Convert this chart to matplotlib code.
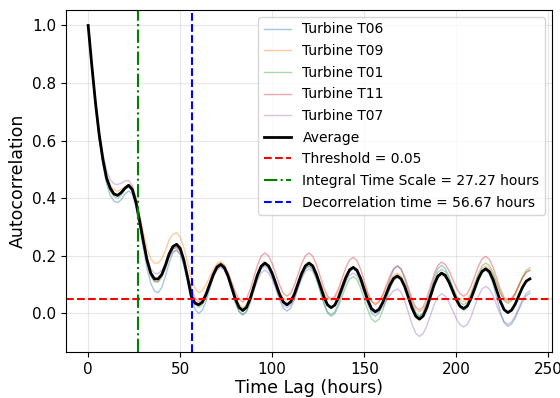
import numpy as np
import matplotlib
matplotlib.use("Agg")
import matplotlib.pyplot as plt

lags = list(range(0, 241, 2))

t06 = [1.0, 0.855, 0.72, 0.605, 0.515, 0.45, 0.41, 0.39, 0.385, 0.395, 0.415, 0.425, 0.415,
       0.37, 0.30, 0.225, 0.155, 0.105, 0.078, 0.072, 0.09, 0.13, 0.175, 0.21, 0.22,
       0.205, 0.165, 0.11, 0.055, 0.015, 0.0,
       0.011, 0.041, 0.083, 0.124, 0.154, 0.165,
       0.154, 0.123, 0.08, 0.038, 0.006, -0.005,
       0.006, 0.038, 0.08, 0.123, 0.154, 0.165,
       0.154, 0.126, 0.087, 0.047, 0.019, 0.008,
       0.019, 0.047, 0.087, 0.126, 0.154, 0.165,
       0.154, 0.123, 0.08, 0.038, 0.006, -0.005,
       0.006, 0.035, 0.075, 0.115, 0.144, 0.155,
       0.144, 0.114, 0.073, 0.031, 0.001, -0.01,
       0.002, 0.034, 0.078, 0.121, 0.153, 0.165,
       0.153, 0.121, 0.078, 0.034, 0.002, -0.01,
       0.002, 0.034, 0.079, 0.123, 0.155, 0.167,
       0.156, 0.128, 0.089, 0.049, 0.021, 0.01,
       0.019, 0.045, 0.08, 0.115, 0.141, 0.15,
       0.137, 0.101, 0.053, 0.004, -0.032, -0.045,
       -0.037, -0.016, 0.013, 0.041, 0.062, 0.07]
t09 = [1.0, 0.86, 0.735, 0.625, 0.54, 0.48, 0.445, 0.43, 0.425, 0.43, 0.44, 0.448, 0.44,
       0.40, 0.34, 0.28, 0.225, 0.19, 0.175, 0.175, 0.19, 0.22, 0.255, 0.275, 0.28,
       0.266, 0.228, 0.176, 0.124, 0.086, 0.072,
       0.079, 0.099, 0.126, 0.153, 0.173, 0.18,
       0.169, 0.14, 0.10, 0.06, 0.031, 0.02,
       0.03, 0.058, 0.095, 0.133, 0.16, 0.17,
       0.162, 0.139, 0.108, 0.076, 0.053, 0.045,
       0.053, 0.076, 0.108, 0.139, 0.162, 0.17,
       0.162, 0.139, 0.108, 0.076, 0.053, 0.045,
       0.053, 0.074, 0.103, 0.131, 0.152, 0.16,
       0.152, 0.129, 0.098, 0.066, 0.043, 0.035,
       0.042, 0.061, 0.088, 0.114, 0.133, 0.14,
       0.131, 0.106, 0.073, 0.039, 0.014, 0.005,
       0.014, 0.037, 0.069, 0.10, 0.123, 0.132,
       0.126, 0.109, 0.086, 0.063, 0.046, 0.04,
       0.048, 0.071, 0.103, 0.134, 0.157, 0.165,
       0.157, 0.134, 0.103, 0.071, 0.048, 0.04,
       0.047, 0.068, 0.095, 0.123, 0.143, 0.15]
t01 = [1.0, 0.855, 0.725, 0.61, 0.525, 0.46, 0.425, 0.405, 0.40, 0.41, 0.43, 0.44, 0.425,
       0.38, 0.31, 0.24, 0.175, 0.13, 0.11, 0.108, 0.125, 0.155, 0.195, 0.222, 0.23,
       0.216, 0.178, 0.125, 0.073, 0.034, 0.02,
       0.03, 0.058, 0.095, 0.133, 0.16, 0.17,
       0.158, 0.126, 0.083, 0.039, 0.007, -0.005,
       0.007, 0.039, 0.083, 0.126, 0.158, 0.17,
       0.161, 0.135, 0.10, 0.065, 0.039, 0.03,
       0.039, 0.064, 0.098, 0.131, 0.156, 0.165,
       0.153, 0.121, 0.078, 0.034, 0.002, -0.01,
       -0.001, 0.025, 0.059, 0.094, 0.119, 0.128,
       0.117, 0.089, 0.049, 0.01, -0.019, -0.03,
       -0.02, 0.009, 0.048, 0.086, 0.115, 0.125,
       0.116, 0.091, 0.058, 0.024, -0.001, -0.01,
       0.001, 0.031, 0.072, 0.112, 0.142, 0.153,
       0.145, 0.122, 0.092, 0.061, 0.038, 0.03,
       0.04, 0.066, 0.103, 0.139, 0.165, 0.175,
       0.166, 0.14, 0.105, 0.07, 0.044, 0.035,
       0.043, 0.066, 0.097, 0.127, 0.15, 0.158]
t11 = [1.0, 0.86, 0.73, 0.615, 0.53, 0.465, 0.43, 0.412, 0.408, 0.418, 0.435, 0.44, 0.428,
       0.38, 0.315, 0.245, 0.178, 0.132, 0.112, 0.112, 0.13, 0.16, 0.198, 0.224, 0.23,
       0.217, 0.183, 0.135, 0.088, 0.053, 0.04,
       0.049, 0.074, 0.108, 0.141, 0.166, 0.175,
       0.166, 0.141, 0.108, 0.074, 0.049, 0.04,
       0.051, 0.083, 0.125, 0.168, 0.199, 0.21,
       0.20, 0.173, 0.135, 0.098, 0.07, 0.06,
       0.07, 0.098, 0.135, 0.173, 0.20, 0.21,
       0.199, 0.17, 0.13, 0.09, 0.061, 0.05,
       0.06, 0.086, 0.123, 0.159, 0.185, 0.195,
       0.184, 0.154, 0.113, 0.071, 0.041, 0.03,
       0.039, 0.064, 0.098, 0.131, 0.156, 0.165,
       0.155, 0.127, 0.089, 0.05, 0.022, 0.012,
       0.023, 0.054, 0.095, 0.137, 0.167, 0.178,
       0.17, 0.149, 0.119, 0.09, 0.068, 0.06,
       0.069, 0.095, 0.129, 0.164, 0.189, 0.198,
       0.188, 0.16, 0.122, 0.083, 0.055, 0.045,
       0.052, 0.071, 0.098, 0.124, 0.143, 0.15]
t07 = [1.0, 0.865, 0.74, 0.635, 0.555, 0.495, 0.465, 0.45, 0.448, 0.452, 0.46, 0.462, 0.445,
       0.40, 0.33, 0.26, 0.195, 0.155, 0.14, 0.138, 0.15, 0.172, 0.198, 0.215, 0.22,
       0.207, 0.173, 0.125, 0.078, 0.043, 0.03,
       0.039, 0.063, 0.095, 0.128, 0.151, 0.16,
       0.15, 0.123, 0.085, 0.048, 0.02, 0.01,
       0.019, 0.045, 0.08, 0.115, 0.141, 0.15,
       0.141, 0.118, 0.085, 0.053, 0.029, 0.02,
       0.029, 0.054, 0.088, 0.121, 0.146, 0.155,
       0.146, 0.121, 0.088, 0.054, 0.029, 0.02,
       0.028, 0.05, 0.08, 0.11, 0.132, 0.14,
       0.131, 0.105, 0.07, 0.035, 0.009, 0.0,
       0.006, 0.021, 0.043, 0.064, 0.079, 0.085,
       0.074, 0.044, 0.003, -0.039, -0.069, -0.08,
       -0.07, -0.043, -0.006, 0.031, 0.058, 0.068,
       0.06, 0.039, 0.011, -0.018, -0.039, -0.047,
       -0.038, -0.012, 0.024, 0.059, 0.085, 0.094,
       0.085, 0.061, 0.028, -0.005, -0.029, -0.038,
       -0.03, -0.009, 0.02, 0.049, 0.07, 0.078]
average = [1.0, 0.86, 0.73, 0.62, 0.535, 0.47, 0.435, 0.415, 0.41, 0.42, 0.435, 0.445, 0.43,
           0.385, 0.32, 0.25, 0.185, 0.14, 0.12, 0.12, 0.135, 0.168, 0.207, 0.232, 0.24,
           0.226, 0.185, 0.125, 0.06, 0.036, 0.03,
           0.039, 0.065, 0.10, 0.135, 0.161, 0.17,
           0.159, 0.13, 0.09, 0.05, 0.021, 0.01,
           0.021, 0.051, 0.093, 0.134, 0.164, 0.175,
           0.165, 0.139, 0.103, 0.066, 0.04, 0.03,
           0.04, 0.066, 0.103, 0.139, 0.165, 0.175,
           0.165, 0.136, 0.098, 0.059, 0.03, 0.02,
           0.029, 0.055, 0.09, 0.125, 0.151, 0.16,
           0.15, 0.122, 0.083, 0.045, 0.016, 0.006,
           0.014, 0.037, 0.068, 0.099, 0.122, 0.13,
           0.12, 0.093, 0.055, 0.018, -0.01, -0.02,
           -0.009, 0.02, 0.06, 0.10, 0.129, 0.14,
           0.132, 0.109, 0.079, 0.048, 0.025, 0.017,
           0.026, 0.052, 0.086, 0.121, 0.146, 0.155,
           0.145, 0.117, 0.079, 0.041, 0.013, 0.003,
           0.011, 0.032, 0.062, 0.091, 0.112, 0.12]

turbine_names = ["Turbine T06", "Turbine T09", "Turbine T01", "Turbine T11", "Turbine T07"]
turbine_series = [t06, t09, t01, t11, t07]
threshold = 0.05
integral_time = 27.27
decorr_time = 56.67

fig = plt.figure(figsize=(5.6, 3.98), dpi=100)
ax = fig.add_axes([0.118, 0.1156, 0.8677, 0.8594])

colors = ["tab:blue", "tab:orange", "tab:green", "tab:red", "tab:purple"]
for name, s, c in zip(turbine_names, turbine_series, colors):
    ax.plot(lags, s, color=c, lw=1, alpha=0.4, label=name)
ax.plot(lags, average, color="black", lw=2, label="Average")
ax.axhline(threshold, color="red", ls="--", lw=1.5, label=f"Threshold = {threshold}")
ax.axvline(integral_time, color="green", ls="-.", lw=1.5, label=f"Integral Time Scale = {integral_time:.2f} hours")
ax.axvline(decorr_time, color="blue", ls="--", lw=1.5, label=f"Decorrelation time = {decorr_time:.2f} hours")

ax.set_xlabel("Time Lag (hours)", fontsize=12.5, labelpad=2)
ax.set_ylabel("Autocorrelation", fontsize=12.5)
ax.tick_params(labelsize=11)
ax.grid(True, alpha=0.3)
ax.legend(loc="upper right", fontsize=10, labelspacing=0.55)

fig.savefig("out.png", dpi=100)
